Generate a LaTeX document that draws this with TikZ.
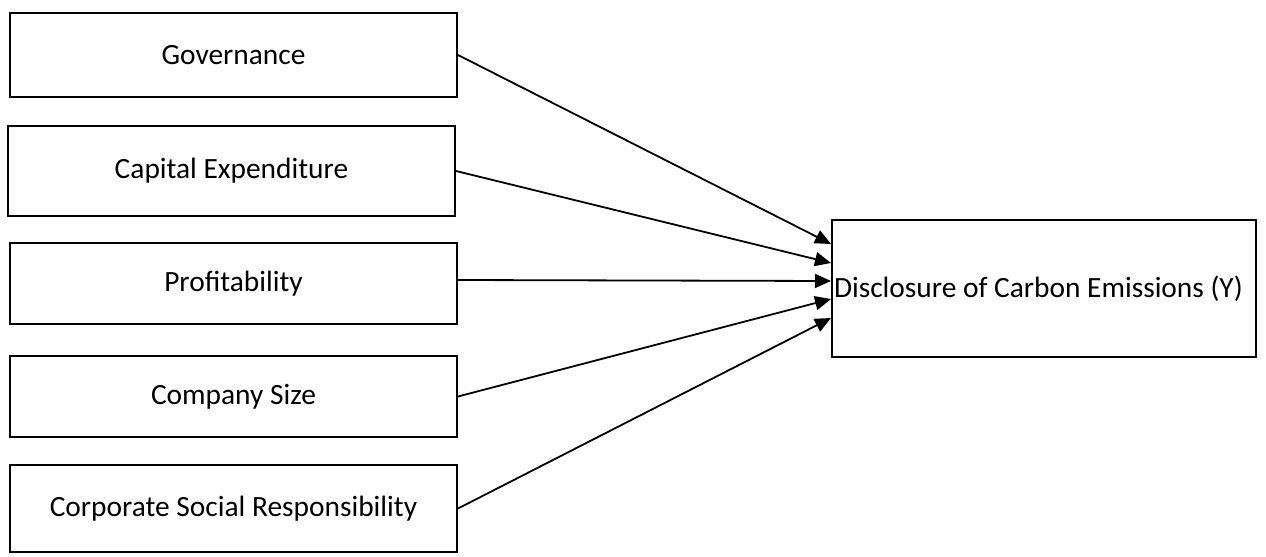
\documentclass[tikz,border=0pt]{standalone}
\usepackage{fontspec}
\setmainfont{Carlito}
\usetikzlibrary{arrows.meta}
\begin{document}
\begin{tikzpicture}[x=0.5pt, y=-0.5pt,
    varbox/.style={draw, line width=1pt, minimum width=223.5pt, font=\fontsize{14.7}{17}\selectfont},
    link/.style={line width=0.9pt, -{Triangle[length=8pt,width=7pt]}}]
    \useasboundingbox (0,0) rectangle (1266,557);
    \node[varbox, minimum height=42pt] (gov) at (233.5,55) {Governance};
    \node[varbox, minimum height=45pt] (capex) at (231.5,171) {Capital Expenditure};
    \node[varbox, minimum height=40.5pt] (prof) at (233.5,283.5) {Profitability};
    \node[varbox, minimum height=40.5pt] (size) at (233.5,396.5) {Company Size};
    \node[varbox, minimum height=43.5pt] (csr) at (233.5,508.5) {Corporate Social Responsibility};
    \node[draw, line width=1pt, anchor=north west, minimum height=68.5pt, text width=210pt,
      inner xsep=1pt, align=flush left, font=\fontsize{14.7}{17}\selectfont] (dce) at (831,219)
      {Disclosure of Carbon Emissions (Y)};
    \draw[link] (gov.east) -- ([yshift=22.25pt]dce.west);
    \draw[link] (capex.east) -- ([yshift=12.75pt]dce.west);
    \draw[link] ([yshift=1.75pt]prof.east) -- ([yshift=3.75pt]dce.west);
    \draw[link] (size.east) -- ([yshift=-5.25pt]dce.west);
    \draw[link] (csr.east) -- ([yshift=-14.75pt]dce.west);
\end{tikzpicture}
\end{document}
